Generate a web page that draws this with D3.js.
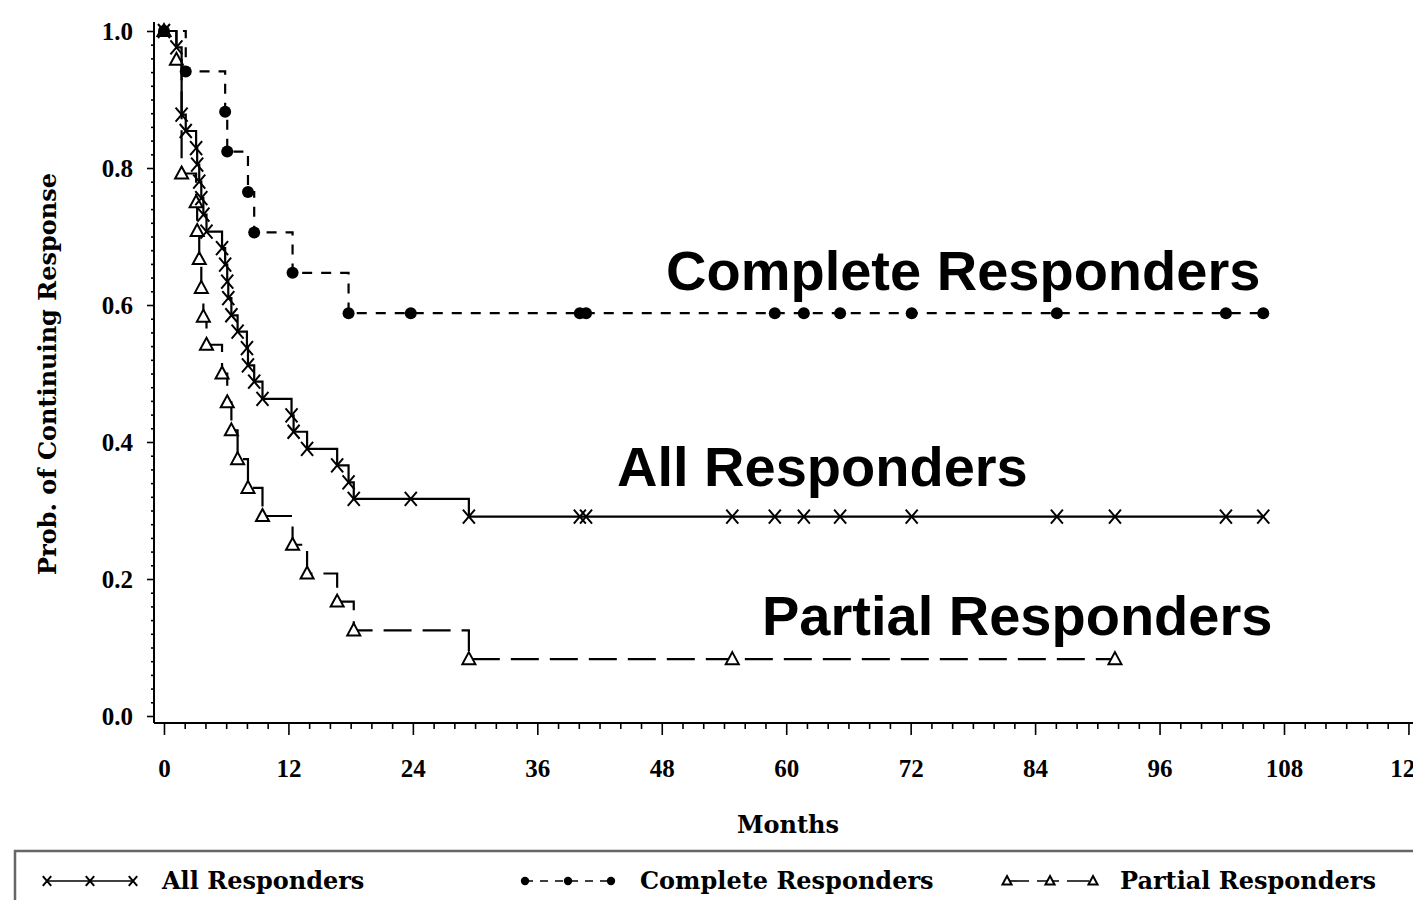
<!DOCTYPE html>
<html>
<head>
<meta charset="utf-8">
<script src="https://cdn.jsdelivr.net/npm/d3@7"></script>
<style>
  html, body { margin: 0; padding: 0; background: #fff; }
  svg { display: block; }
</style>
</head>
<body>
<svg id="chart" width="1413" height="900"></svg>
<script>
// Kaplan-Meier estimates of duration of response (months), one point per observation
const allTimes = [0, 1.2, 1.7, 2.1, 3.1, 3.2, 3.4, 3.6, 3.8, 4.1, 5.6, 5.9, 6.1, 6.2, 6.5, 7.1, 8.0, 8.1, 8.7, 9.5,
                  12.3, 12.5, 13.8, 16.7, 17.8, 18.3, 23.8, 29.4, 40.1, 40.7, 54.8, 58.9, 61.7, 65.2, 72.1, 86.1, 91.7, 102.4, 106.0];
const allSurv  = [1, 0.976, 0.878, 0.854, 0.829, 0.805, 0.780, 0.756, 0.732, 0.707, 0.683, 0.659, 0.634, 0.610, 0.585, 0.561, 0.537, 0.512, 0.488, 0.463,
                  0.439, 0.415, 0.390, 0.366, 0.341, 0.317, 0.317, 0.291, 0.291, 0.291, 0.291, 0.291, 0.291, 0.291, 0.291, 0.291, 0.291, 0.291, 0.291];

const completeTimes = [0, 2.1, 5.9, 6.1, 8.1, 8.7, 12.4, 17.8, 23.8, 40.1, 40.7, 58.9, 61.7, 65.2, 72.1, 86.1, 102.4, 106.0];
const completeSurv  = [1, 0.941, 0.882, 0.824, 0.765, 0.706, 0.647, 0.588, 0.588, 0.588, 0.588, 0.588, 0.588, 0.588, 0.588, 0.588, 0.588, 0.588];

const partialTimes = [0, 1.2, 1.7, 3.1, 3.2, 3.4, 3.6, 3.8, 4.1, 5.6, 6.1, 6.5, 7.1, 8.1, 9.5, 12.4, 13.8, 16.7, 18.3, 29.4, 54.8, 91.7];
const partialSurv  = [1, 0.958, 0.792, 0.750, 0.708, 0.667, 0.625, 0.583, 0.542, 0.500, 0.458, 0.417, 0.375, 0.333, 0.292, 0.250, 0.208, 0.167, 0.125, 0.083, 0.083, 0.083];

const xTicks = [0, 12, 24, 36, 48, 60, 72, 84, 96, 108, 120];
const yTicks = [0.0, 0.2, 0.4, 0.6, 0.8, 1.0];

const seriesNames = ["All Responders", "Complete Responders", "Partial Responders"];

const svg = d3.select("#chart");
const serif = "'DejaVu Serif', serif";
const tickFont = "'Liberation Serif', 'Times New Roman', serif";
const sans = "'Liberation Sans', Arial, sans-serif";

const x = d3.scaleLinear().domain([-1, 121.5]).range([153.6, 1424]);
const y = d3.scaleLinear().domain([0, 1]).range([716, 31]);
const axisY = 723;   // baseline of the months axis
const axisX = 154;   // position of the probability axis

// ---- axes ----
const gx = svg.append("g").attr("transform", `translate(0,${axisY})`);
gx.call(d3.axisBottom(x).tickValues(d3.range(0, 121, 2).filter(v => v % 12 !== 0))
  .tickSize(6).tickFormat(""));
gx.call(g => g.select(".domain").remove());
const gx2 = svg.append("g").attr("transform", `translate(0,${axisY})`);
gx2.call(d3.axisBottom(x).tickValues(xTicks).tickSize(12).tickPadding(24).tickFormat(d3.format("d")));
gx2.select(".domain").remove();
gx2.selectAll("text").attr("font-family", tickFont).attr("font-weight", "bold")
  .attr("font-size", 25).attr("fill", "#000");
svg.selectAll("g.tick line").attr("stroke", "#000").attr("stroke-width", 1.6);
svg.append("line").attr("x1", axisX).attr("x2", 1413).attr("y1", axisY).attr("y2", axisY)
  .attr("stroke", "#000").attr("stroke-width", 2);

const gy = svg.append("g").attr("transform", `translate(${axisX},0)`);
gy.call(d3.axisLeft(y).tickValues(d3.range(0, 1.001, 0.02).filter(v => Math.abs(v * 5 - Math.round(v * 5)) > 1e-6))
  .tickSize(3).tickFormat(""));
gy.select(".domain").remove();
const gy2 = svg.append("g").attr("transform", `translate(${axisX},0)`);
gy2.call(d3.axisLeft(y).tickValues(yTicks).tickSize(7).tickPadding(14).tickFormat(d3.format(".1f")));
gy2.select(".domain").remove();
gy2.selectAll("text").attr("font-family", tickFont).attr("font-weight", "bold")
  .attr("font-size", 25).attr("fill", "#000");
svg.selectAll("g.tick line").attr("stroke", "#000").attr("stroke-width", 1.6);
svg.append("line").attr("x1", axisX).attr("x2", axisX).attr("y1", axisY).attr("y2", 22)
  .attr("stroke", "#000").attr("stroke-width", 2);

// axis titles
svg.append("text").attr("x", 788).attr("y", 833).attr("text-anchor", "middle")
  .attr("font-family", serif).attr("font-weight", "bold").attr("font-size", 24).text("Months");
svg.append("text").attr("transform", "translate(56,374) rotate(-90)").attr("text-anchor", "middle")
  .attr("font-family", serif).attr("font-weight", "bold").attr("font-size", 24)
  .text("Prob. of Continuing Response");

// ---- markers ----
function drawMarker(g, kind, cx, cy, s) {
  if (kind === "x") {
    g.append("path").attr("d", `M${cx - 6 * s},${cy - 7 * s}L${cx + 6 * s},${cy + 7 * s}M${cx + 6 * s},${cy - 7 * s}L${cx - 6 * s},${cy + 7 * s}`)
      .attr("stroke", "#000").attr("stroke-width", 2).attr("fill", "none");
  } else if (kind === "dot") {
    g.append("circle").attr("cx", cx).attr("cy", cy).attr("r", 6 * s).attr("fill", "#000");
  } else {
    g.append("path").attr("d", `M${cx},${cy - 7 * s}L${cx + 6.5 * s},${cy + 5 * s}L${cx - 6.5 * s},${cy + 5 * s}Z`)
      .attr("stroke", "#000").attr("stroke-width", 2).attr("fill", "#fff");
  }
}

// ---- survival curves ----
const series = [
  { name: seriesNames[2], times: partialTimes, surv: partialSurv, marker: "tri", dash: "28,11" },
  { name: seriesNames[1], times: completeTimes, surv: completeSurv, marker: "dot", dash: "10,9" },
  { name: seriesNames[0], times: allTimes, surv: allSurv, marker: "x", dash: null }
];

const line = d3.line().x(d => x(d[0])).y(d => y(d[1])).curve(d3.curveStepAfter);

series.forEach(s => {
  const pts = s.times.map((t, i) => [t, s.surv[i]]);
  const g = svg.append("g");
  g.append("path").datum(pts).attr("d", line)
    .attr("fill", "none").attr("stroke", "#000").attr("stroke-width", 2.2)
    .attr("stroke-dasharray", s.dash);
  pts.forEach(p => drawMarker(g, s.marker, x(p[0]), y(p[1]), 1));
});

// ---- curve labels ----
const labels = [
  { text: seriesNames[1], x: 666, y: 290 },
  { text: seriesNames[0], x: 617, y: 486 },
  { text: seriesNames[2], x: 762, y: 635 }
];
svg.selectAll("text.curve-label").data(labels).join("text").attr("class", "curve-label")
  .attr("x", d => d.x).attr("y", d => d.y)
  .attr("font-family", sans).attr("font-weight", "bold").attr("font-size", 56).attr("fill", "#000")
  .text(d => d.text);

// ---- legend ----
svg.append("path").attr("d", "M15,902V851H1413").attr("fill", "none").attr("stroke", "#666").attr("stroke-width", 2.5);
const legendItems = [
  { name: seriesNames[0], marker: "x", dash: null, x0: 47, tx: 162 },
  { name: seriesNames[1], marker: "dot", dash: "8,7", x0: 525, tx: 640 },
  { name: seriesNames[2], marker: "tri", dash: "22,8", x0: 1007, tx: 1120 }
];
const ly = 881;
legendItems.forEach(it => {
  const g = svg.append("g");
  g.append("line").attr("x1", it.x0).attr("x2", it.x0 + 86).attr("y1", ly).attr("y2", ly)
    .attr("stroke", "#000").attr("stroke-width", 1.6).attr("stroke-dasharray", it.dash);
  [0, 43, 86].forEach(dx => drawMarker(g, it.marker, it.x0 + dx, ly, 0.7));
  g.append("text").attr("x", it.tx).attr("y", ly + 8)
    .attr("font-family", serif).attr("font-weight", "bold").attr("font-size", 24).text(it.name);
});
</script>
</body>
</html>
